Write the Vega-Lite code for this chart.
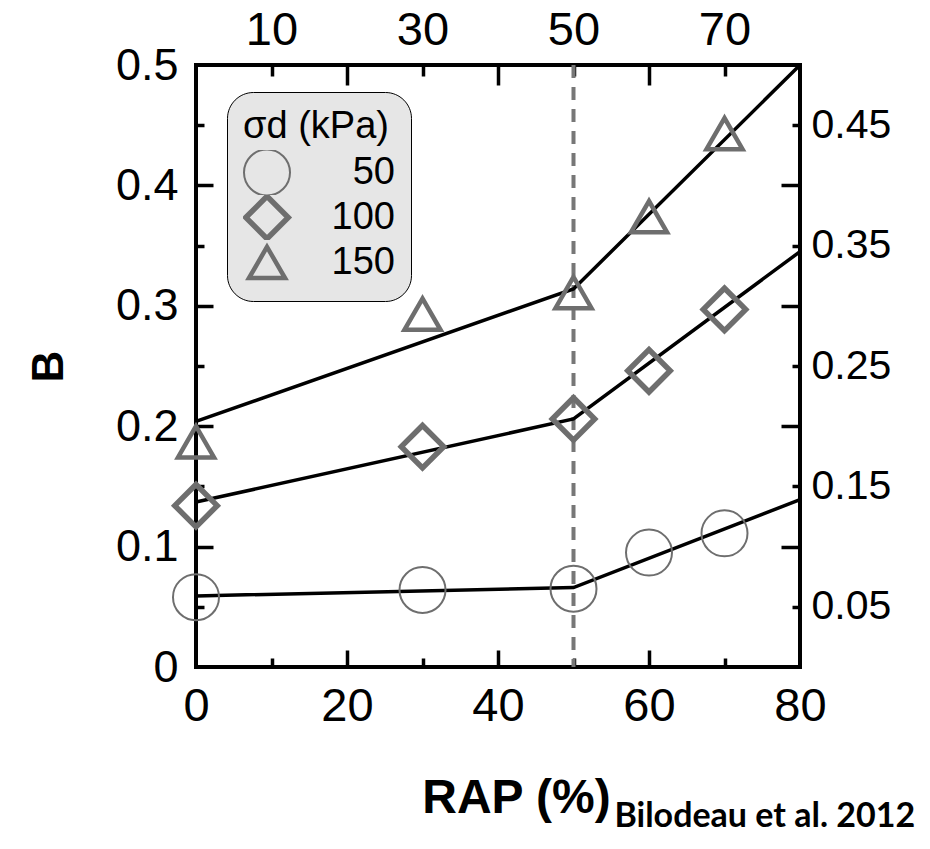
{
  "$schema": "https://vega.github.io/schema/vega-lite/v6.json",
  "width": 604,
  "height": 602,
  "autosize": "none",
  "padding": {"left": 196, "top": 65, "right": 130, "bottom": 182},
  "background": "white",
  "config": {
    "view": {"stroke": "black", "strokeWidth": 4},
    "font": "Liberation Sans",
    "axis": {"domain": false, "grid": false, "labelFlush": false, "labelColor": "black", "tickColor": "black", "tickWidth": 3.5, "labelFont": "Liberation Sans", "titleFont": "Liberation Sans", "titleColor": "black"}
  },
  "datasets": {
    "pts": [
      {"RAP": 0, "B": 0.058, "sigma": 50},
      {"RAP": 30, "B": 0.064, "sigma": 50},
      {"RAP": 50, "B": 0.065, "sigma": 50},
      {"RAP": 60, "B": 0.095, "sigma": 50},
      {"RAP": 70, "B": 0.111, "sigma": 50},
      {"RAP": 0, "B": 0.134, "sigma": 100},
      {"RAP": 30, "B": 0.183, "sigma": 100},
      {"RAP": 50, "B": 0.206, "sigma": 100},
      {"RAP": 60, "B": 0.246, "sigma": 100},
      {"RAP": 70, "B": 0.297, "sigma": 100},
      {"RAP": 0, "B": 0.187, "sigma": 150},
      {"RAP": 30, "B": 0.293, "sigma": 150},
      {"RAP": 50, "B": 0.311, "sigma": 150},
      {"RAP": 60, "B": 0.374, "sigma": 150},
      {"RAP": 70, "B": 0.443, "sigma": 150}
    ],
    "fits": [
      {"RAP": 0, "B": 0.059, "sigma": 50},
      {"RAP": 50, "B": 0.066, "sigma": 50},
      {"RAP": 80, "B": 0.139, "sigma": 50},
      {"RAP": 0, "B": 0.137, "sigma": 100},
      {"RAP": 50, "B": 0.206, "sigma": 100},
      {"RAP": 80, "B": 0.345, "sigma": 100},
      {"RAP": 0, "B": 0.204, "sigma": 150},
      {"RAP": 50, "B": 0.314, "sigma": 150},
      {"RAP": 80, "B": 0.5, "sigma": 150}
    ],
    "vline": [{"RAP": 50}]
  },
  "title": {"text": "Bilodeau et al. 2012", "orient": "bottom", "anchor": "start", "font": "Lato", "fontSize": 34, "fontWeight": "bold", "color": "black", "dx": 587, "offset": -22},
  "layer": [
    {
      "data": {"name": "vline"},
      "mark": {"type": "rule", "color": "#777777", "strokeWidth": 4, "strokeDash": [13, 9]},
      "encoding": {
        "x": {"field": "RAP", "type": "quantitative", "scale": {"domain": [0, 80], "nice": false}, "axis": null}
      }
    },
    {
      "data": {"name": "fits"},
      "mark": {"type": "line", "color": "black", "strokeWidth": 3.5},
      "encoding": {
        "x": {"field": "RAP", "type": "quantitative", "scale": {"domain": [0, 80], "nice": false},
          "axis": {"orient": "bottom", "values": [0, 20, 40, 60, 80], "ticks": false, "labelFontSize": 47, "labelPadding": 16, "title": "RAP (%)", "titleFontSize": 48, "titleFontWeight": "bold", "titlePadding": 45, "titleX": 320}},
        "y": {"field": "B", "type": "quantitative", "scale": {"domain": [0, 0.5], "nice": false, "zero": true},
          "axis": {"orient": "left", "values": [0, 0.1, 0.2, 0.3, 0.4, 0.5], "format": ".1~f", "ticks": false, "labelFontSize": 45, "labelPadding": 18, "title": "B", "titleFontSize": 44, "titleFontWeight": "bold", "titlePadding": 44}},
        "detail": {"field": "sigma", "type": "nominal"}
      }
    },
    {
      "data": {"name": "pts"},
      "mark": {"type": "point", "filled": false, "color": "#6e6e6e", "opacity": 1},
      "encoding": {
        "x": {"field": "RAP", "type": "quantitative", "scale": {"domain": [0, 80], "nice": false},
          "axis": {"orient": "top", "values": [10, 30, 50, 70], "ticks": false, "labelFontSize": 47, "labelPadding": 11, "title": null}},
        "y": {"field": "B", "type": "quantitative", "scale": {"domain": [0, 0.5], "nice": false},
          "axis": {"orient": "right", "values": [0.05, 0.15, 0.25, 0.35, 0.45], "format": ".2f", "ticks": false, "labelFontSize": 41, "labelPadding": 11, "title": null}},
        "shape": {"field": "sigma", "type": "nominal", "scale": {"domain": [50, 100, 150], "range": ["circle", "diamond", "triangle-up"]},
          "legend": {"orient": "none", "legendX": 31, "legendY": 27, "title": "σd (kPa)", "titleFontSize": 38, "titleFontWeight": "normal", "titleColor": "black", "titleFont": "Liberation Sans", "labelFont": "Liberation Sans", "labelFontSize": 38, "labelColor": "black", "labelAlign": "right", "labelOffset": 104, "padding": 16, "cornerRadius": 26, "fillColor": "#e6e6e6", "strokeColor": "black", "rowPadding": 0, "clipHeight": 45, "symbolStrokeColor": "#6e6e6e", "symbolFillColor": "transparent", "titlePadding": 4}},
        "size": {"field": "sigma", "type": "nominal", "scale": {"type": "ordinal", "domain": [50, 100, 150], "range": [2116, 1800, 1300]}},
        "strokeWidth": {"field": "sigma", "type": "nominal", "scale": {"type": "ordinal", "domain": [50, 100, 150], "range": [2, 5.5, 4.5]}}
      }
    },
    {
      "data": {"name": "fits"},
      "mark": {"type": "point", "opacity": 0},
      "encoding": {
        "x": {"field": "RAP", "type": "quantitative", "scale": {"domain": [0, 80], "nice": false},
          "axis": {"orient": "bottom", "values": [20, 40, 60], "labels": false, "tickSize": -17, "title": null}},
        "y": {"field": "B", "type": "quantitative", "scale": {"domain": [0, 0.5], "nice": false},
          "axis": {"orient": "left", "values": [0.1, 0.2, 0.3, 0.4], "labels": false, "tickSize": -17, "title": null}}
      }
    },
    {
      "data": {"name": "fits"},
      "mark": {"type": "point", "opacity": 0},
      "encoding": {
        "x": {"field": "RAP", "type": "quantitative", "scale": {"domain": [0, 80], "nice": false},
          "axis": {"orient": "bottom", "values": [10, 30, 50, 70], "labels": false, "tickSize": -9, "title": null}},
        "y": {"field": "B", "type": "quantitative", "scale": {"domain": [0, 0.5], "nice": false},
          "axis": {"orient": "left", "values": [0.05, 0.15, 0.25, 0.35, 0.45], "labels": false, "tickSize": -8, "title": null}}
      }
    },
    {
      "data": {"name": "fits"},
      "mark": {"type": "point", "opacity": 0},
      "encoding": {
        "x": {"field": "RAP", "type": "quantitative", "scale": {"domain": [0, 80], "nice": false},
          "axis": {"orient": "top", "values": [20, 40, 60], "labels": false, "tickSize": -20, "title": null}},
        "y": {"field": "B", "type": "quantitative", "scale": {"domain": [0, 0.5], "nice": false},
          "axis": {"orient": "right", "values": [0.1, 0.2, 0.3, 0.4], "labels": false, "tickSize": -19, "title": null}}
      }
    },
    {
      "data": {"name": "fits"},
      "mark": {"type": "point", "opacity": 0},
      "encoding": {
        "x": {"field": "RAP", "type": "quantitative", "scale": {"domain": [0, 80], "nice": false},
          "axis": {"orient": "top", "values": [10, 30, 50, 70], "labels": false, "tickSize": -11, "title": null}},
        "y": {"field": "B", "type": "quantitative", "scale": {"domain": [0, 0.5], "nice": false},
          "axis": {"orient": "right", "values": [0.05, 0.15, 0.25, 0.35, 0.45], "labels": false, "tickSize": -8, "title": null}}
      }
    }
  ],
  "resolve": {"axis": {"x": "independent", "y": "independent"}}
}
